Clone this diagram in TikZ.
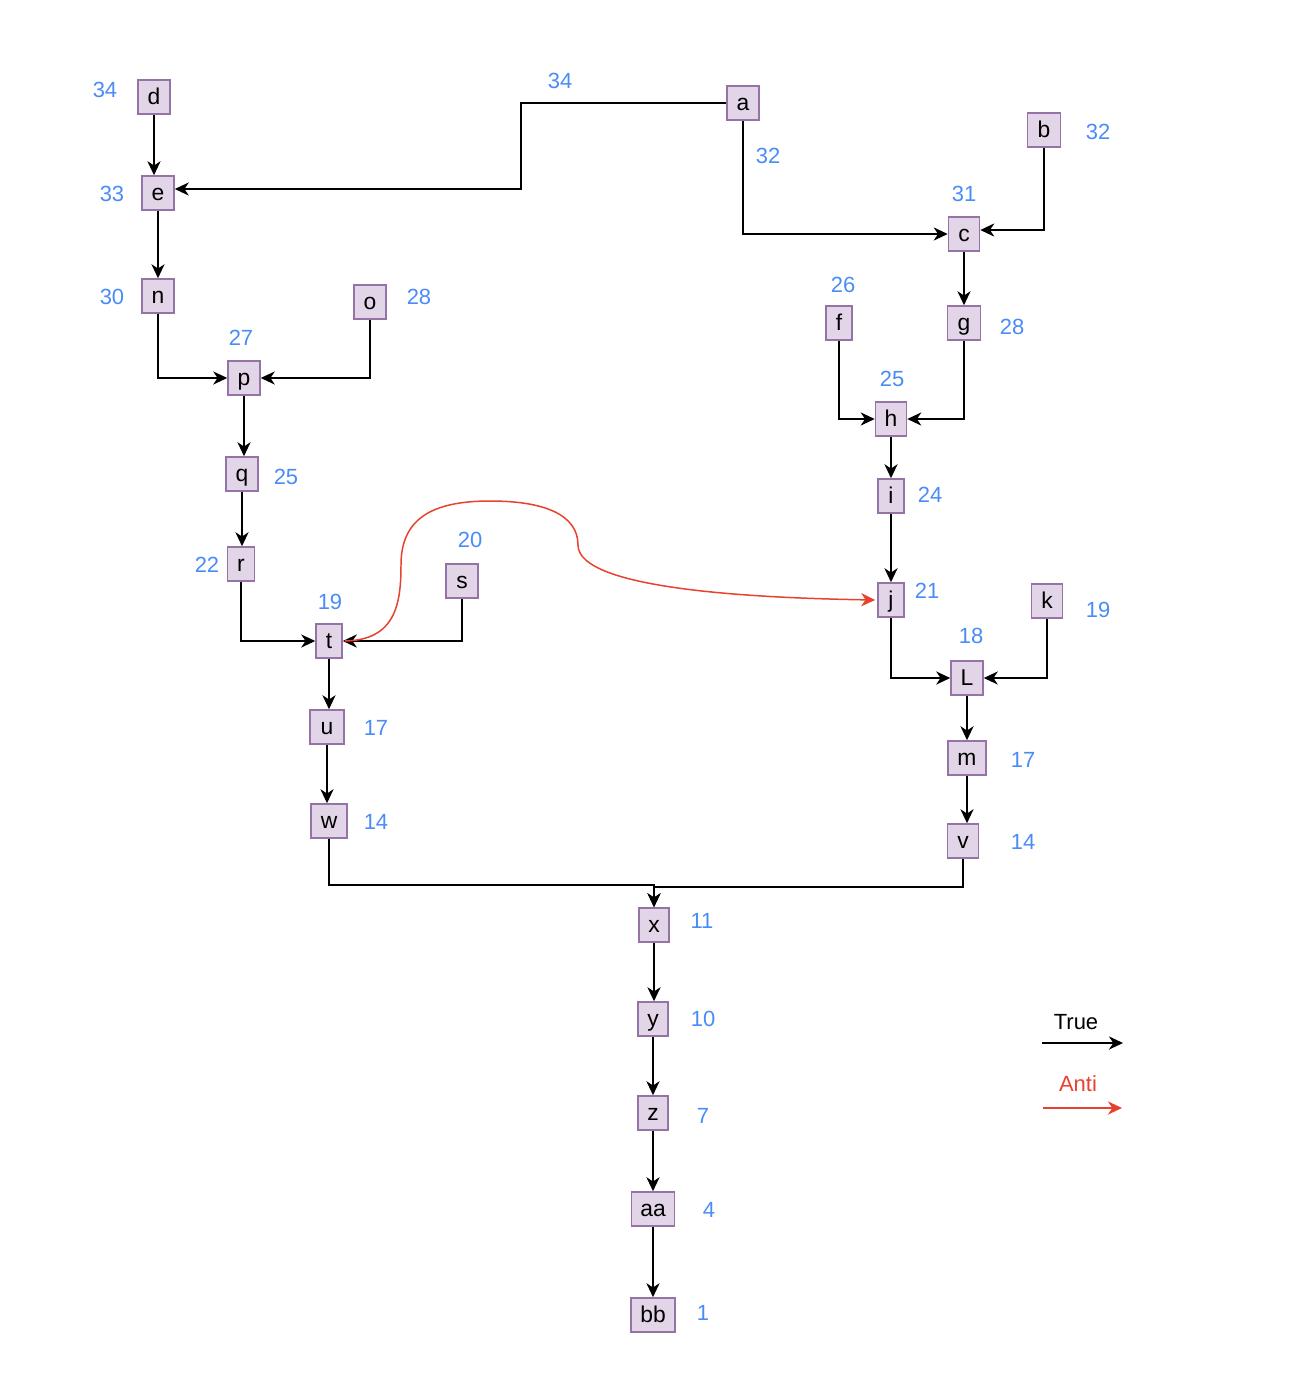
\documentclass[tikz,border=0pt]{standalone}
\usepackage{fontspec}
\setmainfont{Liberation Sans}
\usetikzlibrary{arrows.meta}
\definecolor{boxfill}{HTML}{E1D5E7}
\definecolor{boxline}{HTML}{9673A6}
\definecolor{numblue}{HTML}{4A8CF6}
\definecolor{antired}{HTML}{E8412D}
\tikzset{
  box/.style={draw=boxline, fill=boxfill, line width=0.9pt, inner sep=0pt, minimum width=0.64cm, minimum height=0.68cm, text height=1.6ex, text depth=-0.3ex, font=\fontsize{13}{15}\selectfont},
  num/.style={text=numblue, inner sep=0pt, font=\fontsize{12.5}{14}\selectfont},
  edge/.style={-{Stealth[length=8pt,width=7.5pt,inset=2.5pt]}, line width=0.85pt, black},
  anti/.style={edge, antired},
}
\begin{document}
\begin{tikzpicture}[x=0.02cm,y=-0.02cm]
\useasboundingbox (0,0) rectangle (1297,1387);
% nodes
\node[box] (d) at (154,97) {d};
\node[box] (e) at (158,193) {e};
\node[box] (n) at (158,296) {n};
\node[box] (o) at (370,302) {o};
\node[box] (p) at (244,378) {p};
\node[box] (q) at (242,474) {q};
\node[box, minimum width=0.54cm] (r) at (241,564) {r};
\node[box] (s) at (462,581) {s};
\node[box, minimum width=0.52cm] (t) at (329,641) {t};
\node[box, minimum width=0.68cm] (u) at (327,727) {u};
\node[box, minimum width=0.72cm] (w) at (329,821) {w};
\node[box, minimum width=0.6cm] (x) at (654,925) {x};
\node[box, minimum width=0.6cm] (y) at (653,1019) {y};
\node[box, minimum width=0.6cm] (z) at (653,1113) {z};
\node[box, minimum width=0.86cm] (aa) at (653,1209) {aa};
\node[box, minimum width=0.88cm] (bb) at (653,1315) {bb};
\node[box] (a) at (743,103) {a};
\node[box, minimum width=0.66cm] (b) at (1044,130) {b};
\node[box, minimum width=0.62cm] (c) at (964,234) {c};
\node[box, minimum width=0.52cm] (f) at (839,323) {f};
\node[box, minimum width=0.66cm] (g) at (964,323) {g};
\node[box, minimum width=0.62cm] (h) at (891,419) {h};
\node[box, minimum width=0.52cm] (i) at (891,496) {i};
\node[box, minimum width=0.52cm] (j) at (891,600) {j};
\node[box, minimum width=0.62cm] (k) at (1047,601) {k};
\node[box] (L) at (967,678) {L};
\node[box, minimum width=0.76cm] (m) at (967,758) {m};
\node[box, minimum width=0.62cm] (v) at (963,841) {v};
% numbers
\node[num] (nd) at (105,90) {34};
\node[num] (ne) at (112,194) {33};
\node[num] (nn) at (112,297) {30};
\node[num] (no) at (419,297) {28};
\node[num] (np) at (241,338) {27};
\node[num] (nq) at (286,477) {25};
\node[num] (nr) at (207,565) {22};
\node[num] (ns) at (470,540) {20};
\node[num] (nt) at (330,602) {19};
\node[num] (nu) at (376,728) {17};
\node[num] (nw) at (376,822) {14};
\node[num] (nx) at (702,921) {11};
\node[num] (ny) at (703,1019) {10};
\node[num] (nz) at (703,1116) {7};
\node[num] (naa) at (709,1210) {4};
\node[num] (nbb) at (703,1313) {1};
\node[num] (nae) at (560,81) {34};
\node[num] (nac) at (768,156) {32};
\node[num] (nc) at (964,194) {31};
\node[num] (nb) at (1098,132) {32};
\node[num] (nf) at (843,285) {26};
\node[num] (ng) at (1012,327) {28};
\node[num] (nh) at (892,379) {25};
\node[num] (ni) at (930,495) {24};
\node[num] (nj) at (927,591) {21};
\node[num] (nL) at (971,636) {18};
\node[num] (nk) at (1098,610) {19};
\node[num] (nm) at (1023,760) {17};
\node[num] (nv) at (1023,842) {14};
% helper coordinates
\coordinate (ae) at (521,0);
\coordinate (lt1) at (1042,1043);
\coordinate (lt2) at (1123,1043);
\coordinate (la1) at (1043,1108);
\coordinate (la2) at (1122,1108);
% edges
\draw[edge] (d.south) -- (d.south |- e.north);
\draw[edge] (a.west) -- (a.west -| ae) |- ([yshift=0.08cm]e.east);
\draw[edge] (e.south) -- (e.south |- n.north);
\draw[edge] (n.south) |- (p.west);
\draw[edge] (o.south) |- (p.east);
\draw[edge] (p.south) -- (p.south |- q.north);
\draw[edge] (q.south) -- (q.south |- r.north);
\draw[edge] (r.south) |- (t.west);
\draw[edge] (s.south) |- (t.east);
\draw[edge] (t.south) -- (t.south |- u.north);
\draw[edge] (u.south) -- (u.south |- w.north);
\draw[edge] (w.south) -- ++(0,46) -| (x.north);
\draw[edge] (v.south) -- ++(0,28) -| (x.north);
\draw[edge] (x.south) -- (x.south |- y.north);
\draw[edge] (y.south) -- (y.south |- z.north);
\draw[edge] (z.south) -- (z.south |- aa.north);
\draw[edge] (aa.south) -- (aa.south |- bb.north);
\draw[edge] (a.south) |- (c.west);
\draw[edge] (b.south) |- ([yshift=0.08cm]c.east);
\draw[edge] (c.south) -- (c.south |- g.north);
\draw[edge] (f.south) |- (h.west);
\draw[edge] (g.south) |- (h.east);
\draw[edge] (h.south) -- (h.south |- i.north);
\draw[edge] (i.south) -- (i.south |- j.north);
\draw[edge] (j.south) |- (L.west);
\draw[edge] (k.south) |- (L.east);
\draw[edge] (L.south) -- (L.south |- m.north);
\draw[edge] (m.south) -- (m.south |- v.north);
% anti edge
\draw[anti] ([xshift=0.04cm]t.east) .. controls (395,640) and (401,605) .. (401,565)
  .. controls (401,520) and (430,501) .. (490,501)
  .. controls (545,501) and (578,515) .. (578,545)
  .. controls (578,590) and (760,598) .. ([xshift=-0.04cm]j.west);
% legend
\node[font=\fontsize{12.5}{14}\selectfont, inner sep=0pt] (lt) at (1076,1022) {True};
\node[font=\fontsize{12.5}{14}\selectfont, text=antired, inner sep=0pt] (la) at (1078,1084) {Anti};
\draw[edge] (lt1) -- (lt2);
\draw[anti] (la1) -- (la2);
\end{tikzpicture}
\end{document}
